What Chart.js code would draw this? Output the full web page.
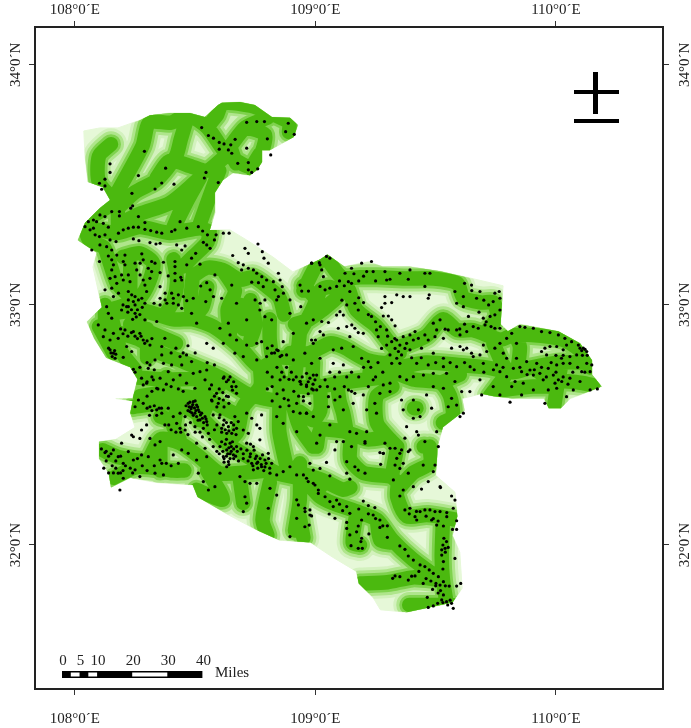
<!DOCTYPE html>
<html>
<head>
<meta charset="utf-8">
<style>
html, body { margin: 0; padding: 0; background: #fff; }
#wrap { width: 691px; height: 728px; }
</style>
<script src="https://cdn.jsdelivr.net/npm/chart.js@4"></script>
</head>
<body>
<div id="wrap"><canvas id="mapChart" width="691" height="728"></canvas></div>
<script>
const lonTicks = [108, 109, 110];
const latTicks = [32, 33, 34];
const scaleMiles = [0, 5, 10, 20, 30, 40];

// county outline, lon/lat
const outline = [[108.037,33.725],[108.104,33.7375],[108.179,33.7375],[108.27,33.77],[108.312,33.79],[108.395,33.80],[108.478,33.80],[108.54,33.783],[108.595,33.833],[108.611,33.842],[108.686,33.846],[108.748,33.833],[108.819,33.783],[108.894,33.78],[108.927,33.75],[108.91,33.70],[108.81,33.645],[108.778,33.645],[108.778,33.596],[108.757,33.5625],[108.728,33.54],[108.657,33.55],[108.615,33.52],[108.582,33.467],[108.582,33.383],[108.561,33.3125],[108.645,33.3125],[108.715,33.27],[108.823,33.20],[108.906,33.1375],[109.02,33.19],[109.05,33.21],[109.12,33.16],[109.22,33.18],[109.28,33.16],[109.39,33.16],[109.52,33.14],[109.61,33.12],[109.78,33.08],[109.77,32.92],[109.80,32.89],[109.85,32.92],[110.01,32.89],[110.10,32.84],[110.15,32.77],[110.15,32.71],[110.19,32.66],[110.14,32.64],[110.06,32.61],[110.02,32.57],[109.97,32.57],[109.95,32.61],[109.82,32.61],[109.74,32.62],[109.69,32.63],[109.61,32.61],[109.62,32.56],[109.53,32.49],[109.51,32.42],[109.50,32.29],[109.58,32.22],[109.59,32.12],[109.57,32.04],[109.60,31.97],[109.61,31.82],[109.57,31.76],[109.38,31.72],[109.27,31.73],[109.24,31.78],[109.18,31.84],[109.17,31.89],[109.07,31.95],[108.98,32.01],[108.85,32.02],[108.76,32.06],[108.63,32.13],[108.51,32.20],[108.49,32.25],[108.34,32.26],[108.23,32.28],[108.15,32.24],[108.14,32.30],[108.10,32.36],[108.10,32.43],[108.17,32.44],[108.25,32.49],[108.23,32.55],[108.24,32.60],[108.17,32.61],[108.24,32.61],[108.26,32.69],[108.23,32.74],[108.13,32.78],[108.08,32.86],[108.05,32.93],[108.09,32.97],[108.112,32.99],[108.075,33.158],[108.091,33.217],[108.012,33.27],[108.042,33.342],[108.104,33.404],[108.146,33.4375],[108.116,33.49],[108.054,33.5125],[108.042,33.617]];

const roads = [
  [[108.15,33.67],[108.10,33.62],[108.10,33.51],[108.17,33.43]],
  [[108.16,33.44],[108.28,33.66],[108.31,33.76],[108.40,33.76],[108.47,33.79],[108.55,33.74],[108.63,33.63],[108.69,33.59],[108.73,33.575],[108.77,33.63]],
  [[108.47,33.79],[108.44,33.69],[108.42,33.62],[108.34,33.52],[108.25,33.47],[108.175,33.40]],
  [[108.59,33.79],[108.615,33.84],[108.73,33.83],[108.81,33.80],[108.89,33.76],[108.89,33.72]],
  [[108.645,33.66],[108.71,33.74],[108.80,33.78]],
  [[108.55,33.74],[108.59,33.79]],
  [[108.715,33.74],[108.79,33.71],[108.78,33.645],[108.74,33.56]],
  [[108.67,33.59],[108.645,33.66]],
  [[108.615,33.61],[108.55,33.56],[108.49,33.575],[108.395,33.60],[108.34,33.53]],
  [[108.52,33.53],[108.47,33.44],[108.42,33.34]],
  [[108.51,33.52],[108.395,33.425],[108.27,33.38],[108.19,33.34]],
  [[108.45,33.42],[108.41,33.325]],
  [[108.60,33.56],[108.57,33.48],[108.52,33.34]],
  [[108.04,33.325],[108.175,33.30],[108.27,33.325],[108.395,33.30],[108.52,33.32],[108.56,33.305]],
  [[108.56,33.305],[108.55,33.26],[108.49,33.20],[108.45,33.16]],
  [[108.08,33.375],[108.17,33.42],[108.18,33.32]],
  [[108.04,33.325],[108.06,33.27],[108.12,33.24],[108.145,33.175],[108.175,33.09],[108.23,33.03],[108.27,32.94]],
  [[108.20,33.20],[108.27,33.215],[108.325,33.175],[108.31,33.10],[108.27,33.03],[108.21,33.00],[108.145,32.98]],
  [[108.23,33.17],[108.23,33.04]],
  [[108.41,33.19],[108.425,33.10],[108.41,33.02],[108.375,32.96]],
  [[108.49,33.12],[108.55,33.155],[108.615,33.145],[108.685,33.105],[108.74,33.115],[108.80,33.075],[108.85,33.03],[108.87,32.96]],
  [[108.55,33.075],[108.53,32.99],[108.48,32.94]],
  [[108.49,33.12],[108.48,33.01],[108.49,32.94]],
  [[108.615,33.145],[108.665,33.06],[108.635,32.98],[108.645,32.885]],
  [[108.95,33.06],[109.01,33.175],[109.05,33.195]],
  [[108.95,33.08],[109.0,33.02],[108.935,32.885]],
  [[108.73,33.02],[108.75,32.92],[108.73,32.855]],
  [[109.05,33.19],[109.11,33.115],[109.185,33.115],[109.256,33.115],[109.39,33.11],[109.49,33.11],[109.59,33.09],[109.615,33.03],[109.69,33.01],[109.74,33.01],[109.755,32.95],[109.715,32.895]],
  [[109.11,33.115],[109.14,33.06],[109.17,32.98],[109.255,32.91],[109.31,32.84],[109.35,32.80]],
  [[109.225,32.72],[109.35,32.74],[109.46,32.76],[109.60,32.75],[109.71,32.74],[109.82,32.72],[109.90,32.74],[110.02,32.76],[110.13,32.76]],
  [[109.35,32.825],[109.46,32.87],[109.53,32.94],[109.59,32.895],[109.655,32.895],[109.77,32.855],[109.81,32.87],[109.90,32.875],[110.03,32.855],[110.10,32.81],[110.14,32.74]],
  [[109.74,32.84],[109.77,32.77],[109.795,32.72],[109.755,32.66],[109.725,32.62]],
  [[109.84,32.73],[109.85,32.825],[109.83,32.875]],
  [[110.02,32.74],[110.005,32.66],[109.99,32.56]],
  [[109.93,32.72],[109.99,32.69],[110.11,32.675],[110.155,32.665]],
  [[109.77,32.645],[109.905,32.66],[110.005,32.66]],
  [[109.34,32.715],[109.405,32.69],[109.52,32.675],[109.56,32.62],[109.57,32.535],[109.53,32.51]],
  [[109.52,32.675],[109.60,32.71]],
  [[109.30,32.70],[109.215,32.69],[109.10,32.675],[109.02,32.66],[108.935,32.66],[108.81,32.69]],
  [[109.35,32.81],[109.30,32.76],[109.215,32.77],[109.115,32.825],[109.06,32.84],[108.975,32.80],[108.895,32.80]],
  [[109.115,33.05],[109.06,33.075],[109.02,33.06],[108.99,32.965],[108.935,32.91]],
  [[109.09,33.03],[109.03,32.98],[108.975,32.94],[108.915,32.92]],
  [[109.32,32.66],[109.255,32.62],[109.255,32.51],[109.30,32.45],[109.34,32.41]],
  [[109.41,32.57],[109.42,32.57]],
  [[109.45,32.41],[109.455,32.41]],
  [[109.005,32.41],[109.02,32.48],[109.06,32.48],[109.13,32.47],[109.215,32.44],[109.30,32.45]],
  [[109.09,32.675],[109.10,32.60],[109.115,32.55],[109.13,32.47]],
  [[109.02,32.645],[109.02,32.56],[108.99,32.52],[108.935,32.555]],
  [[108.935,32.30],[109.03,32.27],[109.115,32.23],[109.145,32.24]],
  [[109.145,32.42],[109.145,32.355],[109.20,32.30],[109.31,32.285],[109.34,32.26],[109.34,32.20],[109.38,32.12],[109.465,32.125],[109.59,32.105]],
  [[109.34,32.41],[109.32,32.30]],
  [[109.475,32.41],[109.475,32.34],[109.405,32.30],[109.35,32.24]],
  [[108.965,32.26],[109.02,32.20],[109.07,32.175],[109.17,32.14],[109.255,32.105],[109.32,32.02],[109.405,31.94],[109.52,31.855]],
  [[109.17,32.13],[109.155,32.01],[109.185,32.0]],
  [[109.255,32.105],[109.27,32.02],[109.31,32.01]],
  [[109.53,32.105],[109.525,31.95],[109.53,31.855],[109.545,31.76]],
  [[109.185,31.84],[109.30,31.845],[109.405,31.865],[109.52,31.855]],
  [[109.39,31.75],[109.57,31.75]],
  [[108.935,32.115],[108.95,32.03]],
  [[108.10,32.91],[108.27,32.855],[108.355,32.80],[108.435,32.77],[108.60,32.70],[108.715,32.63],[108.79,32.61],[108.85,32.60]],
  [[108.24,32.575],[108.38,32.59],[108.49,32.56],[108.575,32.48],[108.63,32.425],[108.74,32.355],[108.84,32.30],[108.965,32.27],[109.02,32.24]],
  [[108.115,32.395],[108.185,32.365],[108.30,32.355],[108.355,32.44],[108.435,32.425],[108.52,32.365],[108.60,32.30],[108.685,32.30],[108.80,32.31]],
  [[108.16,32.28],[108.26,32.325],[108.41,32.31],[108.455,32.31]],
  [[108.355,32.41],[108.355,32.31]],
  [[108.435,32.44],[108.395,32.52],[108.355,32.535]],
  [[108.505,32.23],[108.615,32.19],[108.55,32.31]],
  [[108.685,32.28],[108.70,32.175]],
  [[108.81,32.26],[108.78,32.105],[108.80,32.04]],
  [[108.935,32.34],[108.935,32.19],[108.915,32.06]],
  [[108.19,32.97],[108.27,32.98],[108.41,32.94],[108.49,32.94],[108.575,32.91],[108.685,32.825],[108.77,32.74],[108.85,32.78],[108.965,32.77]],
  [[108.77,32.74],[108.77,32.66],[108.70,32.575],[108.675,32.47],[108.63,32.425]],
  [[108.81,32.94],[108.81,32.855],[108.825,32.76],[108.85,32.69],[108.85,32.56],[108.85,32.47],[108.88,32.325]],
  [[108.935,32.885],[108.92,32.74],[108.905,32.60],[108.935,32.49],[108.99,32.41]],
  [[108.99,32.76],[108.99,32.69],[109.02,32.635]],
  [[108.38,32.70],[108.425,32.615],[108.41,32.49]],
  [[108.23,32.70],[108.38,32.69],[108.52,32.69],[108.60,32.66]],
  [[108.125,33.0],[108.125,32.895]],
  [[108.145,32.98],[108.19,32.81],[108.25,32.73]],
  [[108.23,32.92],[108.42,32.84]],
  [[108.30,32.90],[108.30,32.78]],
  [[108.52,32.64],[108.60,32.58],[108.66,32.55]],
  [[108.45,32.62],[108.55,32.60],[108.52,32.52]],
  [[108.27,32.62],[108.40,32.64]],
  [[108.69,33.0],[108.70,32.90]],
  [[108.10,32.91],[108.16,32.80]]
];

const northPoints = [[108.527,33.739],[108.555,33.706],[108.576,33.695],[108.600,33.677],[108.620,33.671],[108.600,33.649],[108.638,33.646],[108.652,33.632],[108.648,33.667],[108.666,33.690],[108.714,33.761],[108.756,33.764],[108.788,33.764],[108.887,33.757],[108.876,33.722],[108.912,33.711],[108.800,33.692],[108.714,33.653],[108.814,33.625],[108.721,33.593],[108.677,33.590],[108.721,33.563],[108.735,33.552],[108.760,33.567],[108.289,33.640],[108.146,33.588],[108.146,33.552],[108.125,33.524],[108.102,33.507],[108.125,33.496],[108.111,33.482],[108.264,33.539],[108.377,33.570],[108.545,33.552],[108.538,33.529],[108.361,33.508],[108.412,33.503],[108.333,33.483],[108.596,33.510],[108.237,33.465],[108.240,33.413],[108.232,33.403],[108.264,33.368],
[108.181,33.299],[108.201,33.313],[108.222,33.320],[108.243,33.324],[108.264,33.324],[108.291,33.343],[108.291,33.315],[108.315,33.310],[108.340,33.303],[108.361,33.299],[108.402,33.306],[108.416,33.313],[108.437,33.347],[108.465,33.320],[108.513,33.326],[108.531,33.308],[108.551,33.292],[108.587,33.292],[108.617,33.299],[108.641,33.299],[108.534,33.261],[108.548,33.250],[108.562,33.236],[108.580,33.271],[108.502,33.215],[108.485,33.195],[108.465,33.167],[108.520,33.170],[108.656,33.206],[108.707,33.236],[108.721,33.215],[108.761,33.254],[108.779,33.222],[108.786,33.195],[108.804,33.174],[108.846,33.132],[108.853,33.104],[108.862,33.076],[108.679,33.176],[108.700,33.167],[108.693,33.146],[108.721,33.153],[108.742,33.146],[108.756,33.132],[108.777,33.118],[108.797,33.104],[108.825,33.097],[108.735,33.095],[108.763,33.093],[108.783,33.076],[108.832,33.063],[108.846,33.035],[108.867,33.049],[108.936,33.083],[108.943,33.058],[108.971,33.058],[108.939,32.993],[108.984,33.174],[109.016,33.176],
[108.056,33.347],[108.077,33.354],[108.104,33.375],[108.125,33.368],[108.153,33.389],[108.185,33.389],[108.185,33.371],[108.090,33.347],[108.118,33.340],[108.139,33.324],[108.042,33.326],[108.063,33.313],[108.077,33.320],[108.084,33.292],[108.102,33.285],[108.125,33.292],[108.146,33.271],[108.171,33.264],[108.243,33.275],[108.266,33.268],[108.312,33.260],[108.337,33.254],[108.354,33.257],[108.423,33.250],[108.458,33.246],[108.444,33.229],[108.070,33.229],[108.104,33.250],[108.132,33.243],[108.153,33.229],[108.139,33.204],[108.102,33.181],[108.153,33.188],[108.160,33.167],[108.174,33.208],[108.208,33.208],[108.201,33.181],[108.278,33.213],[108.284,33.188],[108.271,33.174],[108.250,33.174],[108.319,33.181],[108.333,33.174],[108.368,33.178],[108.416,33.181],[108.416,33.160],
[108.153,33.146],[108.167,33.118],[108.174,33.090],[108.146,33.111],[108.194,33.125],[108.222,33.125],[108.201,33.104],[108.229,33.097],[108.208,33.167],[108.257,33.146],[108.271,33.125],[108.284,33.104],[108.305,33.153],[108.319,33.139],[108.312,33.111],[108.291,33.083],[108.354,33.135],[108.388,33.121],[108.416,33.132],[108.440,33.115],[108.416,33.101],[108.444,33.104],[108.125,33.063],[108.153,33.070],[108.181,33.049],[108.160,33.035],[108.132,32.993],[108.222,33.056],[108.236,33.042],[108.250,33.035],[108.222,33.021],[108.243,33.014],[108.264,33.021],[108.278,33.028],[108.250,33.000],[108.298,33.056],[108.291,33.007],[108.222,32.993],[108.354,33.076],[108.375,33.049],[108.354,33.028],[108.375,33.021],[108.402,33.049],[108.409,33.028],[108.430,33.042],[108.451,33.035],[108.382,33.007],[108.409,33.007],[108.354,33.000],[108.329,33.007],[108.430,33.000],[108.465,33.018],[108.492,33.028],[108.523,33.079],[108.548,33.093],[108.562,33.063],[108.576,33.035],[108.544,33.014],[108.582,33.125],[108.610,33.028],[108.652,33.083],[108.672,33.007],[108.749,33.021],[108.770,33.007],[108.790,33.021],[108.839,33.021],[108.894,33.021]];

const westPoints = [[108.139,32.965],[108.153,32.945],[108.194,32.979],[108.215,32.993],[108.250,32.965],[108.291,32.938],[108.340,32.931],[108.444,32.986],[108.097,32.917],[108.125,32.896],[108.118,32.868],[108.160,32.882],[108.180,32.861],[108.208,32.896],[108.243,32.889],[108.270,32.882],[108.284,32.854],[108.312,32.833],[108.146,32.854],[108.215,32.827],[108.160,32.799],[108.167,32.778],[108.146,32.813],[108.236,32.806],[108.201,32.782],[108.361,32.827],[108.374,32.861],[108.333,32.771],[108.312,32.750],[108.361,32.792],[108.368,32.757],[108.402,32.750],[108.437,32.785],[108.464,32.792],[108.485,32.764],[108.444,32.750],[108.243,32.732],[108.277,32.695],[108.305,32.736],[108.326,32.688],[108.354,32.695],[108.388,32.722],[108.409,32.688],[108.340,32.653],[108.298,32.674],[108.368,32.646],[108.284,32.667],[108.437,32.708],[108.464,32.674],[108.492,32.715],[108.520,32.722],[108.548,32.729],[108.541,32.688],[108.499,32.653],[108.568,32.667],[108.589,32.632],[108.617,32.695],[108.638,32.688],[108.652,32.660],[108.672,32.632],[108.264,32.604],[108.284,32.590],[108.250,32.576],[108.312,32.576],[108.340,32.563],[108.361,32.549],[108.388,32.570],[108.409,32.535],[108.423,32.507],[108.437,32.549],[108.458,32.535],[108.471,32.590],[108.492,32.597],[108.485,32.576],[108.506,32.583],[108.513,32.563],[108.499,32.549],[108.527,32.549],[108.541,32.535],[108.520,32.521],[108.548,32.514],[108.478,32.556],[108.568,32.604],[108.596,32.590],[108.617,32.604],[108.638,32.618],
[108.374,32.500],[108.437,32.486],[108.458,32.479],[108.499,32.493],[108.534,32.486],[108.555,32.465],[108.575,32.542],[108.603,32.542],[108.617,32.500],[108.638,32.493],[108.631,32.465],[108.665,32.535],[108.679,32.514],[108.610,32.486],[108.652,32.465],[108.672,32.486],[108.236,32.458],[108.243,32.451],[108.312,32.444],[108.333,32.417],[108.354,32.431],[108.277,32.479],[108.270,32.444],[108.298,32.500],[108.160,32.396],[108.180,32.368],[108.201,32.340],[108.243,32.354],[108.277,32.375],[108.305,32.368],[108.354,32.354],[108.361,32.340],[108.409,32.375],[108.430,32.340],[108.194,32.424],[108.222,32.389],[108.180,32.299],[108.201,32.278],[108.250,32.313],[108.270,32.285],[108.333,32.299],[108.368,32.292],[108.444,32.396],[108.471,32.382],[108.506,32.354],[108.548,32.368],[108.506,32.424],[108.513,32.299],[108.541,32.403],[108.575,32.410],[108.603,32.410],[108.631,32.396],[108.617,32.368],[108.645,32.424],[108.659,32.375],[108.638,32.347],[108.672,32.410],[108.714,32.424],[108.742,32.410],[108.728,32.368],[108.756,32.340],[108.776,32.326],[108.742,32.313],[108.790,32.354],[108.804,32.382],[108.818,32.340],[108.714,32.549],[108.735,32.528],[108.756,32.500],[108.776,32.542],[108.769,32.486],[108.700,32.479],[108.721,32.465],[108.769,32.438],[108.631,32.326],[108.686,32.285],[108.707,32.264],[108.728,32.257],[108.756,32.257],[108.811,32.299],[108.839,32.292],[108.866,32.306],[108.894,32.326],[108.922,32.292],[108.963,32.278],[108.991,32.257],[109.012,32.229],[108.811,32.236],[108.839,32.208],[108.922,32.188],[108.929,32.167],[108.957,32.139],[108.977,32.125],[108.922,32.111],[108.894,32.035],[108.707,32.201],[108.714,32.174],[108.700,32.139],[108.804,32.153],[108.534,32.264],[108.555,32.229],[108.582,32.243],[108.603,32.299],[108.187,32.229],
[108.839,32.813],[108.853,32.785],[108.818,32.799],[108.880,32.792],[108.908,32.771],[108.853,32.688],[108.866,32.646],[108.908,32.688],[108.936,32.681],[108.977,32.695],[109.005,32.708],[108.963,32.660],[108.991,32.646],[109.019,32.660],[108.887,32.604],[108.922,32.590],[108.963,32.549],[108.908,32.556],[108.936,32.549],[108.853,32.576],[108.839,32.535],[108.866,32.507],[108.922,32.472],[109.005,32.424],[108.894,32.965],[108.963,32.924],[108.991,32.840],[108.908,32.882],[108.866,32.847],[108.818,32.938],[108.790,32.951],[108.769,32.979],[108.714,32.938],[108.672,32.854],[108.617,32.840],[108.575,32.820],[108.548,32.840],[108.506,32.924],[108.485,32.965],[108.603,32.903],[108.645,32.875],[108.638,32.924],[108.714,32.833],[108.756,32.840],[108.776,32.847],[108.797,32.785],[108.700,32.785],[108.665,32.799],[108.756,32.771],
[108.475,32.575],[108.483,32.568],[108.490,32.585],[108.497,32.571],[108.503,32.56],[108.510,32.575],[108.517,32.555],[108.492,32.54],[108.506,32.535],[108.522,32.542],[108.53,32.528],[108.512,32.52],[108.535,32.51],[108.545,32.525],[108.486,32.55],[108.47,32.56],[108.462,32.58],[108.478,32.595],[108.50,32.60],[108.55,32.50],[108.625,32.42],[108.64,32.405],[108.65,32.39],[108.66,32.40],[108.635,32.38],[108.62,32.36],[108.645,32.36],[108.668,32.37],[108.68,32.35],[108.63,32.44],[108.655,32.43],[108.69,32.40],[108.70,32.38],[108.715,32.395],[108.73,32.38],[108.75,32.36],[108.76,32.345],[108.775,32.335],[108.79,32.325],[108.74,32.33],[108.80,32.82],[108.82,32.83],[108.83,32.80],[108.86,32.79],[108.845,32.81],[108.87,32.70],[108.89,32.69],[108.92,32.70],[108.945,32.70],[108.94,32.67],[108.97,32.68],[108.99,32.67],[108.985,32.65],[108.11,32.40],[108.125,32.385],[108.14,32.37],[108.13,32.35],[108.155,32.33],[108.17,32.32],[108.19,32.30],[108.21,32.33],[108.23,32.32],[108.28,32.33],[108.30,32.31],[108.33,32.33],[108.38,32.34],[108.40,32.33],[108.30,32.62],[108.32,32.64],[108.345,32.65],[108.30,32.68],[108.32,32.70],[108.38,32.67],[108.40,32.66],[108.43,32.65],[108.45,32.64],[108.25,32.72],[108.27,32.74],[108.30,32.76],[108.33,32.73],[108.40,32.80],[108.42,32.82],[108.45,32.80],[108.47,32.83],[108.50,32.80],[108.55,32.76],[108.58,32.75]];

const eastPoints = [[108.984,33.174],[109.019,33.167],[109.026,33.146],[109.046,33.202],[109.060,33.195],[109.033,33.118],[109.019,33.077],[109.040,33.063],[109.060,33.070],[109.088,33.077],[109.123,33.132],[109.150,33.153],[109.137,33.097],[109.150,33.090],[109.143,33.056],[109.164,33.007],[109.178,32.979],[109.192,33.174],[109.213,33.139],[109.233,33.181],[109.240,33.139],[109.289,33.139],[109.351,33.132],[109.393,33.146],[109.455,33.132],[109.476,33.132],[109.296,33.104],[109.310,33.107],[109.455,33.077],[109.473,33.042],[109.469,33.028],[109.386,33.107],[109.289,33.035],[109.338,33.042],[109.365,33.035],[109.393,33.035],[109.317,33.010],[109.289,33.007],[109.275,32.989],[109.282,32.954],[109.303,32.954],[109.317,32.938],[109.331,32.913],[109.580,33.056],[109.615,33.035],[109.649,33.083],[109.684,33.056],[109.670,33.028],[109.746,33.049],[109.764,33.056],[109.767,33.028],[109.739,33.014],[109.767,32.979],[109.587,33.007],[109.615,32.993],[109.636,32.952],[109.698,32.945],[109.726,32.952],[109.746,32.959],[109.705,32.917],[109.677,32.903],[109.746,32.903],[109.767,32.903],
[109.518,32.938],[109.490,32.924],[109.504,32.896],[109.539,32.899],[109.497,32.868],[109.455,32.875],[109.469,32.854],[109.532,32.861],[109.552,32.896],[109.601,32.875],[109.629,32.889],[109.656,32.910],[109.587,32.896],[109.102,32.972],[109.088,32.958],[109.116,32.958],[108.991,32.938],[109.026,32.931],[109.054,32.927],[109.019,32.889],[109.033,32.875],[108.984,32.854],[109.095,32.903],[109.130,32.910],[109.151,32.917],[109.164,32.903],[109.143,32.868],[109.199,32.882],[109.178,32.885],[109.233,32.952],[109.254,32.896],[109.261,32.868],[109.296,32.896],[109.275,32.819],[109.296,32.833],[109.317,32.847],[109.338,32.854],[109.351,32.833],[109.365,32.868],[109.379,32.840],[109.393,32.875],[109.414,32.889],[109.407,32.854],[109.428,32.861],[109.331,32.819],[109.345,32.806],[109.372,32.819],[109.310,32.792],[109.338,32.778],[109.358,32.792],[109.317,32.757],[109.351,32.757],[109.393,32.813],
[109.441,32.820],[109.490,32.799],[109.532,32.778],[109.566,32.820],[109.615,32.813],[109.601,32.827],[109.629,32.820],[109.649,32.799],[109.656,32.785],[109.698,32.833],[109.712,32.806],[109.684,32.792],[109.746,32.820],[109.767,32.840],[109.781,32.799],[109.795,32.861],[109.816,32.882],[109.836,32.840],[109.850,32.910],[109.871,32.907],[109.906,32.903],[109.940,32.889],[109.975,32.885],[110.010,32.875],[110.037,32.861],[110.065,32.847],[110.093,32.833],[110.114,32.820],[110.128,32.806],[110.100,32.820],[110.107,32.810],[110.121,32.815],[109.954,32.820],[109.975,32.827],[109.961,32.792],[109.940,32.806],[110.003,32.827],[110.030,32.813],[110.044,32.833],[110.023,32.778],[110.058,32.785],[110.086,32.792],
[109.421,32.757],[109.469,32.750],[109.532,32.743],[109.587,32.743],[109.643,32.743],[109.698,32.757],[109.753,32.750],[109.795,32.778],[109.836,32.778],[109.878,32.764],[109.920,32.757],[109.823,32.736],[109.857,32.722],[109.892,32.729],[109.933,32.715],[109.968,32.736],[110.003,32.750],[110.030,32.757],[110.058,32.757],[110.128,32.757],[110.149,32.750],[110.107,32.722],[110.142,32.722],[109.767,32.722],[109.795,32.701],[109.830,32.681],[109.864,32.674],[109.906,32.708],[109.947,32.688],[109.989,32.708],[110.010,32.688],[109.996,32.674],[110.024,32.681],[110.003,32.653],[110.058,32.695],[110.100,32.681],[110.142,32.646],[110.172,32.650],[110.072,32.646],[110.044,32.618],[109.968,32.646],[109.954,32.590],[109.906,32.646],[109.857,32.625],[109.809,32.595],[109.816,32.660],[109.767,32.625],[109.739,32.660],[109.691,32.625],[109.684,32.688],[109.642,32.639],[109.608,32.639],
[109.490,32.715],[109.545,32.715],[109.449,32.708],[109.407,32.701],[109.379,32.688],[109.490,32.660],[109.532,32.653],[109.580,32.681],[109.566,32.611],[109.587,32.583],[109.615,32.549],[109.601,32.535],[109.552,32.576],[109.240,32.688],[109.282,32.667],[109.310,32.674],[109.268,32.632],[109.310,32.639],[109.351,32.701],[109.358,32.604],[109.365,32.563],[109.407,32.604],[109.428,32.563],[109.407,32.528],[109.435,32.535],[109.462,32.625],[109.483,32.570],[109.504,32.472],[109.379,32.493],[109.421,32.472],[109.372,32.445],[109.428,32.458],[109.455,32.431],[109.511,32.410],[109.393,32.396],[109.351,32.382],[109.310,32.403],[109.282,32.382],[109.213,32.472],[109.171,32.465],[109.143,32.472],[109.150,32.410],[109.206,32.431],[109.088,32.431],[109.060,32.500],[109.019,32.458],[109.081,32.396],
[108.963,32.715],[108.991,32.708],[108.936,32.681],[108.963,32.667],[108.998,32.688],[108.950,32.618],[108.977,32.590],[109.005,32.646],[109.040,32.688],[109.054,32.618],[109.081,32.604],[109.102,32.618],[109.137,32.646],[109.164,32.632],[109.199,32.625],[109.054,32.576],[109.116,32.563],[109.157,32.590],[109.213,32.563],[109.247,32.590],[109.254,32.549],[108.963,32.549],[108.991,32.535],[109.000,32.854],[109.074,32.813],[109.109,32.820],[109.157,32.827],[109.192,32.778],[109.220,32.764],[109.074,32.757],[109.116,32.750],[109.019,32.778],[108.956,32.799],[108.984,32.757]];

const southPoints = [[109.116,32.431],[109.206,32.424],[109.289,32.424],[109.358,32.396],[109.386,32.389],[109.331,32.403],[109.338,32.361],[109.351,32.319],[109.324,32.271],[109.331,32.333],[109.365,32.340],[109.386,32.299],[109.448,32.333],[109.497,32.333],[109.469,32.264],[109.490,32.306],[109.518,32.243],[109.268,32.385],[109.282,32.382],[109.271,32.336],[109.130,32.347],[109.130,32.299],[109.164,32.326],[109.178,32.312],[109.206,32.299],[109.143,32.274],[109.046,32.344],[109.019,32.319],[109.060,32.288],[108.977,32.340],[108.991,32.312],[108.950,32.292],[108.970,32.264],[108.998,32.250],[109.012,32.215],[109.040,32.201],[109.060,32.181],[109.088,32.187],[109.074,32.160],[109.081,32.111],[109.057,32.129],[109.113,32.143],[109.143,32.132],[109.199,32.183],[109.220,32.164],[109.247,32.156],[109.240,32.125],[109.268,32.104],[109.299,32.080],[108.956,32.153],[108.977,32.146],[108.984,32.121],[108.956,32.076],[108.974,32.083],[109.130,32.094],[109.130,32.069],[109.192,32.104],[109.178,32.079],[109.171,32.055],[109.143,32.042],[109.192,32.028],[109.222,32.046],[109.189,32.014],[109.148,31.997],[109.178,31.986],[109.195,31.986],[109.268,32.073],[109.299,32.032],[109.351,31.996],[109.372,31.982],[109.386,31.954],[109.407,31.937],[109.435,31.917],[109.455,31.910],[109.473,31.896],[109.490,31.882],[109.511,31.868],[109.532,31.847],[109.501,31.840],[109.487,31.815],[109.448,31.840],[109.414,31.871],[109.386,31.854],[109.351,31.868],[109.331,31.871],[109.321,31.861],[109.465,31.782],[109.580,31.944],[109.525,31.958],[109.532,31.931],[109.539,31.986],[109.534,32.028],[109.552,31.990],[109.545,32.014],[109.532,32.079],[109.587,32.101],[109.570,32.065],[109.580,32.187],[109.566,32.204],[109.573,32.153],[109.587,32.065],[109.372,32.146],[109.393,32.153],[109.414,32.118],[109.435,32.139],[109.421,32.104],[109.455,32.146],[109.476,32.146],[109.497,32.139],[109.518,32.139],[109.546,32.135],[109.483,32.104],[109.504,32.083],[109.546,32.118],[109.441,32.233],[109.365,32.229],[109.351,32.204],[109.407,32.243],[109.520,32.239],[109.525,31.771],[109.545,31.764],[109.566,31.757],[109.573,31.736],[109.490,31.746],[109.469,31.740],[109.508,31.757],[109.587,31.829],[109.604,31.840],[109.556,31.829],[109.532,31.792],[109.518,31.833]];

// second pass over the crowded parts
const densePoints = [[108.19,32.90],[108.20,32.88],[108.22,32.87],[108.235,32.885],[108.25,32.87],[108.26,32.86],[108.275,32.87],[108.29,32.84],[108.30,32.85],[108.32,32.86],[108.14,32.82],[108.15,32.80],[108.155,32.785],[108.165,32.81],[108.17,32.795],[108.20,33.0],[108.22,32.97],[108.235,32.98],[108.26,32.98],[108.27,32.96],[108.255,32.95],[108.28,32.99],[108.24,32.94],[108.62,32.70],[108.63,32.68],[108.645,32.70],[108.66,32.68],[108.655,32.645],[108.67,32.66],[108.60,32.65],[108.615,32.635],[108.63,32.62],[108.56,32.65],[108.58,32.62],[108.60,32.61],[108.57,32.60],[108.59,32.575],[108.62,32.575],[108.64,32.59],[108.30,32.57],[108.32,32.56],[108.33,32.58],[108.35,32.57],[108.31,32.54],[108.34,32.54],[108.36,32.57],[108.60,32.53],[108.62,32.52],[108.63,32.51],[108.61,32.47],[108.625,32.48],[108.64,32.475],[108.65,32.51],[108.66,32.50],[108.66,32.48],[108.67,32.46],[108.59,32.50],[108.58,32.48],[108.61,32.43],[108.615,32.39],[108.63,32.37],[108.65,32.41],[108.645,32.38],[108.66,32.36],[108.675,32.39],[108.60,32.38],[108.59,32.39],[108.62,32.345],[108.64,32.335],[108.73,32.42],[108.745,32.395],[108.755,32.37],[108.77,32.36],[108.78,32.375],[108.795,32.34],[108.805,32.36],[108.76,32.32],[108.785,32.31],[108.81,32.32],[108.72,32.35],[108.70,32.36],[108.735,32.34],[108.39,32.50],[108.40,32.48],[108.42,32.47],[108.44,32.47],[108.46,32.50],[108.48,32.51],[108.50,32.47],[108.52,32.47],[108.53,32.45],[108.47,32.46],[108.56,32.44],[108.13,32.39],[108.15,32.38],[108.17,32.35],[108.19,32.37],[108.12,32.32],[108.14,32.30],[108.16,32.30],[108.20,32.31],[108.24,32.30],[108.26,32.36],[108.80,32.72],[108.82,32.70],[108.84,32.74],[108.86,32.72],[108.88,32.74],[108.90,32.72],[108.82,32.66],[108.84,32.63],[108.87,32.61],[108.89,32.58],[108.82,32.60],[108.80,32.65],[108.91,32.64],[108.93,32.62],[108.95,32.60],[108.97,32.63],[109.20,32.74],[109.23,32.74],[109.26,32.76],[109.28,32.72],[109.25,32.70],[109.22,32.66],[109.18,32.70],[109.15,32.72],[109.13,32.70],[109.10,32.72],[109.08,32.70],[109.06,32.72],[109.05,32.66],[109.08,32.65],[109.12,32.66],[109.15,32.64],[109.40,32.78],[109.44,32.78],[109.50,32.76],[109.56,32.76],[109.62,32.76],[109.66,32.73],[109.70,32.72],[109.74,32.73],[109.78,32.74],[109.85,32.74],[109.88,32.71],[109.96,32.70],[110.00,32.72],[110.03,32.70],[110.05,32.67],[110.07,32.72],[110.09,32.74],[110.12,32.72],[110.11,32.79],[110.13,32.79],[110.03,32.79],[110.00,32.79],[109.98,32.76],[109.91,32.73],[109.94,32.74],[109.10,33.10],[109.12,33.08],[109.16,33.13],[109.18,33.10],[109.20,33.12],[109.25,33.10],[109.18,33.03],[109.20,33.01],[109.11,33.02],[109.13,33.00],[109.22,32.96],[109.25,32.93],[109.27,32.91],[109.30,32.87],[109.33,32.86],[109.62,33.09],[109.65,33.06],[109.70,33.02],[109.72,33.00],[109.68,32.97],[109.71,32.93],[109.73,32.91],[109.60,32.90],[109.62,32.92],[109.40,31.87],[109.43,31.89],[109.46,31.86],[109.48,31.85],[109.50,31.83],[109.52,31.81],[109.54,31.83],[109.51,31.80],[109.53,31.90],[109.525,31.98],[109.54,31.97],[109.53,32.00],[109.46,32.12],[109.49,32.11],[109.51,32.10],[109.42,32.14],[109.39,32.13],[109.53,31.76],[109.55,31.75],[109.56,31.77],[109.28,32.08],[109.25,32.11],[109.22,32.13],[109.18,32.15],[109.13,32.16],[109.10,32.17]];

const lonFmt = v => v + '°0´E';
const latFmt = v => v + '°0´N';

function flatten(lines) {
  const out = [];
  lines.forEach(line => {
    line.forEach(p => out.push({x: p[0], y: p[1]}));
    out.push({x: null, y: null});
  });
  return out;
}
const roadData = flatten(roads);
const allPoints = northPoints.concat(westPoints, eastPoints, southPoints, densePoints);
const bandStyles = [
  {w: 32, c: '#d3f1be'},
  {w: 26, c: '#afe58c'},
  {w: 20, c: '#7fd24e'},
  {w: 14.5, c: '#4bb90f'}
];

// clip the green bands to the county shape
const regionClip = {
  id: 'regionClip',
  beforeDatasetDraw(chart, args) {
    if (!chart.data.datasets[args.index].clipRegion) return;
    const {ctx, scales} = chart;
    ctx.save();
    ctx.beginPath();
    outline.forEach((p, i) => {
      const x = scales.x.getPixelForValue(p[0]), y = scales.y.getPixelForValue(p[1]);
      if (i) ctx.lineTo(x, y); else ctx.moveTo(x, y);
    });
    ctx.closePath();
    ctx.clip();
  },
  afterDatasetDraw(chart, args) {
    if (chart.data.datasets[args.index].clipRegion) chart.ctx.restore();
  }
};

// north arrow and scale bar
const mapDecor = {
  id: 'mapDecor',
  afterDraw(chart) {
    const ctx = chart.ctx;
    ctx.save();
    ctx.fillStyle = '#000';
    ctx.fillRect(593, 72, 5, 42);
    ctx.fillRect(574, 90, 45, 4);
    ctx.fillRect(574, 119, 45, 4);

    const x0 = 62, perMile = 3.51, y = 671, h = 7;
    const segs = [[0,2.5,1],[2.5,5,0],[5,7.5,1],[7.5,10,0],[10,20,1],[20,30,0],[30,40,1]];
    ctx.fillRect(x0, y, 40 * perMile, h);
    ctx.fillStyle = '#fff';
    segs.forEach(s => {
      if (!s[2]) ctx.fillRect(x0 + s[0] * perMile, y + 1.5, (s[1] - s[0]) * perMile, h - 3);
    });
    ctx.fillStyle = '#222';
    ctx.font = '15px "Liberation Serif"';
    ctx.textAlign = 'center';
    ctx.textBaseline = 'alphabetic';
    scaleMiles.forEach(m => ctx.fillText(String(m), x0 + m * perMile + 1, 665));
    ctx.textAlign = 'left';
    ctx.fillText('Miles', 215, 677);
    ctx.restore();
  }
};

function fixTicks(values) {
  return axis => { axis.ticks = values.map(v => ({value: v})); };
}
const tickFont = {family: '"Liberation Serif"', size: 15};
const axisCommon = {
  type: 'linear',
  border: {display: true, color: '#222', width: 2},
  grid: {drawOnChartArea: false, color: '#333', tickLength: 6, tickWidth: 1, drawTicks: true}
};

new Chart(document.getElementById('mapChart'), {
  type: 'scatter',
  data: {
    datasets: [
      {data: outline.concat([outline[0]]).map(p => ({x: p[0], y: p[1]})), showLine: true, fill: 'shape', backgroundColor: '#e6f8d8', borderColor: '#e6f8d8', borderWidth: 1, pointRadius: 0, order: 10},
      ...bandStyles.map((b, i) => ({data: roadData, showLine: true, spanGaps: false, tension: 0.25, borderColor: b.c, borderWidth: b.w, borderCapStyle: 'round', borderJoinStyle: 'round', pointRadius: 0, clipRegion: true, order: 9 - i})),
      {data: allPoints.map(p => ({x: p[0], y: p[1]})), backgroundColor: '#000', borderWidth: 0, pointRadius: 1.6, order: 1}
    ]
  },
  options: {
    responsive: false,
    animation: false,
    layout: {padding: 0},
    plugins: {legend: {display: false}, tooltip: {enabled: false}},
    scales: {
      x: {...axisCommon, position: 'bottom', min: 107.834, max: 110.445, afterBuildTicks: fixTicks(lonTicks), afterFit: s => { s.height = 39; },
        ticks: {font: tickFont, color: '#222', padding: 15, maxRotation: 0, callback: lonFmt}},
      xTop: {...axisCommon, position: 'top', min: 107.834, max: 110.445, afterBuildTicks: fixTicks(lonTicks), afterFit: s => { s.height = 27; },
        ticks: {font: tickFont, color: '#222', padding: 2, maxRotation: 0, callback: lonFmt}},
      y: {...axisCommon, position: 'left', min: 31.4, max: 34.158, afterBuildTicks: fixTicks(latTicks), afterFit: s => { s.width = 35; },
        ticks: {font: tickFont, color: '#222', padding: -9, minRotation: 90, maxRotation: 90, crossAlign: 'center', callback: latFmt}},
      yRight: {...axisCommon, position: 'right', min: 31.4, max: 34.158, afterBuildTicks: fixTicks(latTicks), afterFit: s => { s.width = 28; },
        ticks: {font: tickFont, color: '#222', padding: -6, minRotation: 90, maxRotation: 90, crossAlign: 'center', callback: latFmt}}
    }
  },
  plugins: [regionClip, mapDecor]
});
</script>
</body>
</html>
